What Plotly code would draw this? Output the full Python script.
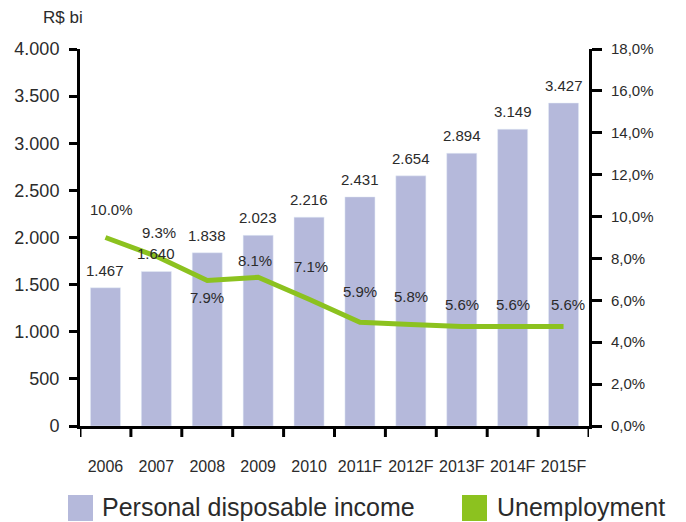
import plotly.graph_objects as go

# ---- data ----
years = ["2006", "2007", "2008", "2009", "2010", "2011F", "2012F", "2013F", "2014F", "2015F"]
income = [1467, 1640, 1838, 2023, 2216, 2431, 2654, 2894, 3149, 3427]
income_labels = ["1.467", "1.640", "1.838", "2.023", "2.216", "2.431", "2.654", "2.894", "3.149", "3.427"]
unemployment_line = [9.0, 8.1, 6.95, 7.1, 6.05, 4.95, 4.85, 4.75, 4.75, 4.75]
unemployment_labels = ["10.0%", "9.3%", "7.9%", "8.1%", "7.1%", "5.9%", "5.8%", "5.6%", "5.6%", "5.6%"]
left_ticks = [0, 500, 1000, 1500, 2000, 2500, 3000, 3500, 4000]
left_ticktext = ["0", "500", "1.000", "1.500", "2.000", "2.500", "3.000", "3.500", "4.000"]
right_ticks = [0, 2, 4, 6, 8, 10, 12, 14, 16, 18]
right_ticktext = ["0,0%", "2,0%", "4,0%", "6,0%", "8,0%", "10,0%", "12,0%", "14,0%", "16,0%", "18,0%"]

# ---- style ----
BAR = "#B5B9DB"
GREEN = "#8CC21F"
TXT = "#2b2b2b"
FONT = "Liberation Sans, Arial, sans-serif"

# page has an 8px body margin: figure sits at (8, 8) in the window
OFF = 8
W, H = 686 - OFF, 522 - OFF
L, T = 80 - OFF, 49 - OFF
PW, PH = 509, 377
R, B = W - L - PW, H - T - PH

def px(x):  # window pixel -> paper x
    return (x - OFF - L) / PW

def py(y):  # window pixel -> paper y
    return (T + PH - (y - OFF)) / PH

xpos = list(range(len(years)))  # category slots

fig = go.Figure()
fig.add_trace(go.Bar(x=xpos, y=income, marker_color=BAR, width=0.59,
                     name="Personal disposable income", hoverinfo="skip"))
fig.add_trace(go.Scatter(x=xpos, y=unemployment_line, yaxis="y2", mode="lines",
                         line=dict(color=GREEN, width=5), name="Unemployment",
                         hoverinfo="skip"))

ann = []
for xi, v, t in zip(xpos, income, income_labels):
    ann.append(dict(x=xi, y=v, text=t, showarrow=False, yanchor="bottom",
                    yshift=7, font=dict(family=FONT, size=15, color=TXT)))

line_yshift = [28, 24, -17, 17, 33, 31, 28, 22, 22, 22]
line_xshift = [6, 3, 0, -3, 2, 0, 0, 0, 0, 4]
for xi, v, t, ys, xs in zip(xpos, unemployment_line, unemployment_labels, line_yshift, line_xshift):
    ann.append(dict(x=xi, y=v, yref="y2", text=t, showarrow=False, yanchor="middle",
                    yshift=ys, xshift=xs, font=dict(family=FONT, size=15, color=TXT)))

ann.append(dict(xref="paper", yref="paper", x=px(63), y=py(18), text="R$ bi",
                showarrow=False, xanchor="center", yanchor="middle",
                font=dict(family=FONT, size=17, color=TXT)))

# manual legend
shapes = [
    dict(type="rect", xref="paper", yref="paper", x0=px(68), x1=px(93), y0=py(521), y1=py(495),
         fillcolor=BAR, line=dict(width=0)),
    dict(type="rect", xref="paper", yref="paper", x0=px(462), x1=px(487), y0=py(521), y1=py(495),
         fillcolor=GREEN, line=dict(width=0)),
]
ann.append(dict(xref="paper", yref="paper", x=px(100), y=py(507), text="Personal disposable income",
                showarrow=False, xanchor="left", yanchor="middle",
                font=dict(family=FONT, size=25, color=TXT)))
ann.append(dict(xref="paper", yref="paper", x=px(495), y=py(507), text="Unemployment",
                showarrow=False, xanchor="left", yanchor="middle",
                font=dict(family=FONT, size=25, color=TXT)))

# boundary ticks between category slots
bounds = [i - 0.5 for i in range(len(years) + 1)]
for b in bounds:
    shapes.append(dict(type="line", xref="x", yref="paper", x0=b, x1=b,
                       y0=0, y1=-11 / PH, line=dict(color="black", width=3)))

fig.update_layout(
    width=W, height=H,
    margin=dict(l=L, r=R, t=T, b=B, pad=0, autoexpand=False),
    paper_bgcolor="white", plot_bgcolor="white",
    showlegend=False,
    annotations=ann, shapes=shapes,
    xaxis=dict(range=[-0.5, len(years) - 0.5], tickvals=xpos, ticktext=years,
               showline=True, linecolor="black", linewidth=3, ticks="",
               showgrid=False, zeroline=False, ticklabelstandoff=24, tickangle=0,
               automargin=False,
               tickfont=dict(family=FONT, size=16, color=TXT)),
    yaxis=dict(range=[0, 4000], tickvals=left_ticks, ticktext=left_ticktext,
               showline=True, linecolor="black", linewidth=3, ticks="outside",
               ticklen=8, tickwidth=3, tickcolor="black", showgrid=False, zeroline=False,
               ticklabelstandoff=6, automargin=False,
               tickfont=dict(family=FONT, size=18, color=TXT)),
    yaxis2=dict(range=[0, 18], tickvals=right_ticks, ticktext=right_ticktext,
                overlaying="y", side="right",
                showline=True, linecolor="black", linewidth=3, ticks="outside",
                ticklen=10, tickwidth=3, tickcolor="black", showgrid=False, zeroline=False,
                ticklabelstandoff=6, automargin=False,
                tickfont=dict(family=FONT, size=15, color=TXT)),
)

fig.write_html("out.html")
